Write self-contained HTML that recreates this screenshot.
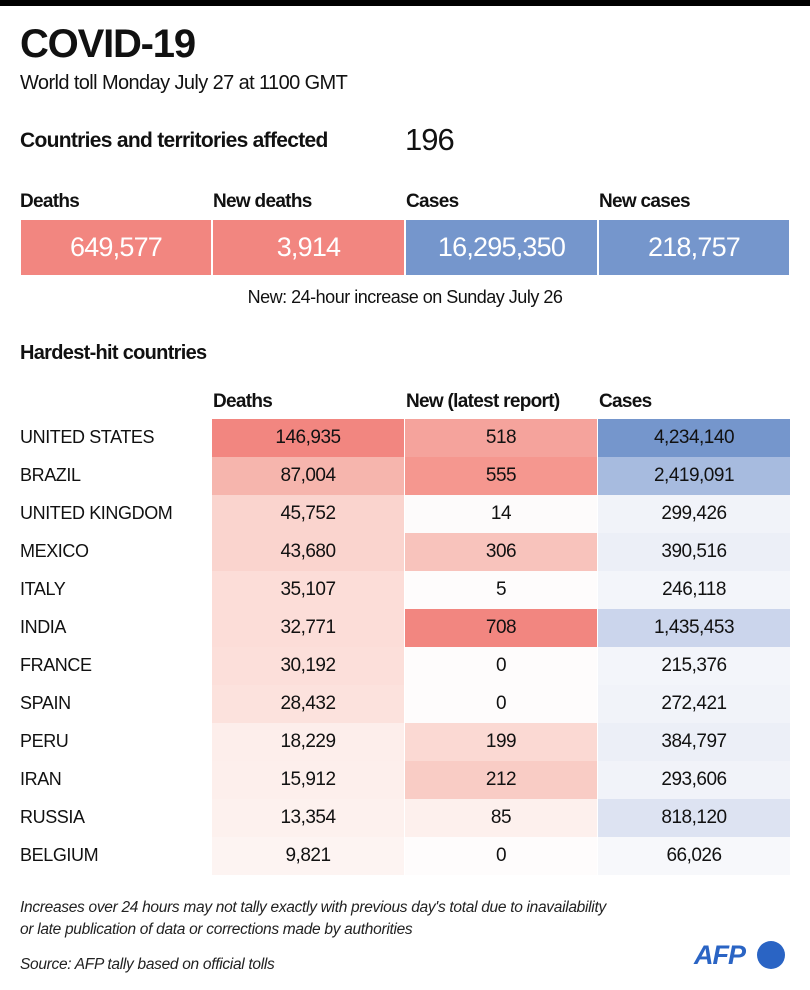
<!DOCTYPE html>
<html><head><meta charset="utf-8"><style>
*{margin:0;padding:0;box-sizing:border-box}
body{width:810px;height:990px;background:#fff;font-family:"Liberation Sans",sans-serif;color:#111;position:relative;overflow:hidden}
.a{position:absolute;white-space:nowrap}
.bar{left:0;top:0;width:810px;height:6px;background:#000}
.t{left:20px;top:22px;font-size:40px;font-weight:bold;letter-spacing:-1.2px}
.s{left:20px;top:72px;font-size:20px;letter-spacing:-0.6px}
.h{font-size:19px;letter-spacing:-0.7px;font-weight:bold}
.box{height:55px;top:220px;color:#fff;font-size:27px;text-align:center;line-height:55px;letter-spacing:-0.8px}
.c{position:absolute;height:38px;line-height:38px;text-align:center;font-size:19px;letter-spacing:-0.5px;width:192px}
.n{position:absolute;left:20px;height:38px;line-height:36px;font-size:18px;letter-spacing:-0.4px}
.f{left:20px;font-size:15.5px;font-style:italic;color:#222;letter-spacing:-0.3px}
</style></head><body>
<div class="a bar"></div>
<div class="a t">COVID-19</div>
<div class="a s">World toll Monday July 27 at 1100 GMT</div>
<div class="a h" style="left:20px;top:129px;font-size:21px">Countries and territories affected</div>
<div class="a" style="left:405px;top:122px;font-size:31px;letter-spacing:-1px">196</div>
<div class="a h" style="left:20px;top:191px">Deaths</div>
<div class="a h" style="left:213px;top:191px">New deaths</div>
<div class="a h" style="left:406px;top:191px">Cases</div>
<div class="a h" style="left:599px;top:191px">New cases</div>
<div class="a box" style="left:21px;width:190px;background:#f28680">649,577</div>
<div class="a box" style="left:213px;width:191px;background:#f28680">3,914</div>
<div class="a box" style="left:406px;width:191px;background:#7596cc">16,295,350</div>
<div class="a box" style="left:599px;width:190px;background:#7596cc">218,757</div>
<div class="a" style="left:0;width:810px;text-align:center;top:287px;font-size:18px;letter-spacing:-0.5px">New: 24-hour increase on Sunday July 26</div>
<div class="a h" style="left:20px;top:342px;font-size:20px">Hardest-hit countries</div>
<div class="a h" style="left:213px;top:391px">Deaths</div>
<div class="a h" style="left:406px;top:391px">New (latest report)</div>
<div class="a h" style="left:599px;top:391px">Cases</div>
<div id="rows"></div>
<div class="a f" style="top:899px">Increases over 24 hours may not tally exactly with previous day's total due to inavailability</div>
<div class="a f" style="top:921px">or late publication of data or corrections made by authorities</div>
<div class="a f" style="top:956px">Source: AFP tally based on official tolls</div>
<div class="a" style="left:694px;top:940px;font-size:27px;font-weight:bold;font-style:italic;color:#2a64c4;letter-spacing:-1px">AFP</div>
<div class="a" style="left:757px;top:941px;width:28px;height:28px;border-radius:50%;background:#2a64c4"></div>
<script>
var d=[["UNITED STATES","146,935","#f28680","518","#f5a39c","4,234,140","#7596cc"],
["BRAZIL","87,004","#f6b5ad","555","#f5978f","2,419,091","#a7bbdf"],
["UNITED KINGDOM","45,752","#fad4ce","14","#fdfbfb","299,426","#f1f3f9"],
["MEXICO","43,680","#fad4ce","306","#f8c3bc","390,516","#eceff7"],
["ITALY","35,107","#fcddd8","5","#fefcfc","246,118","#f3f5fa"],
["INDIA","32,771","#fcddd8","708","#f28680","1,435,453","#cbd5ec"],
["FRANCE","30,192","#fcdfda","0","#fefcfc","215,376","#f3f5fa"],
["SPAIN","28,432","#fce2dd","0","#fefcfc","272,421","#f1f3f9"],
["PERU","18,229","#fdeeeb","199","#fbd9d3","384,797","#eceff7"],
["IRAN","15,912","#fdefec","212","#f9ccc5","293,606","#f1f3f9"],
["RUSSIA","13,354","#fdf1ee","85","#fdf0ed","818,120","#dde3f2"],
["BELGIUM","9,821","#fdf4f2","0","#fefcfc","66,026","#f7f8fb"]];
var h="";
d.forEach(function(r,i){var y=419+i*38;
h+='<div class="n" style="top:'+y+'px">'+r[0]+'</div>';
h+='<div class="c" style="left:212px;top:'+y+'px;background:'+r[2]+'">'+r[1]+'</div>';
h+='<div class="c" style="left:405px;top:'+y+'px;background:'+r[4]+'">'+r[3]+'</div>';
h+='<div class="c" style="left:598px;top:'+y+'px;background:'+r[6]+'">'+r[5]+'</div>';});
document.getElementById("rows").innerHTML=h;
</script>
</body></html>
